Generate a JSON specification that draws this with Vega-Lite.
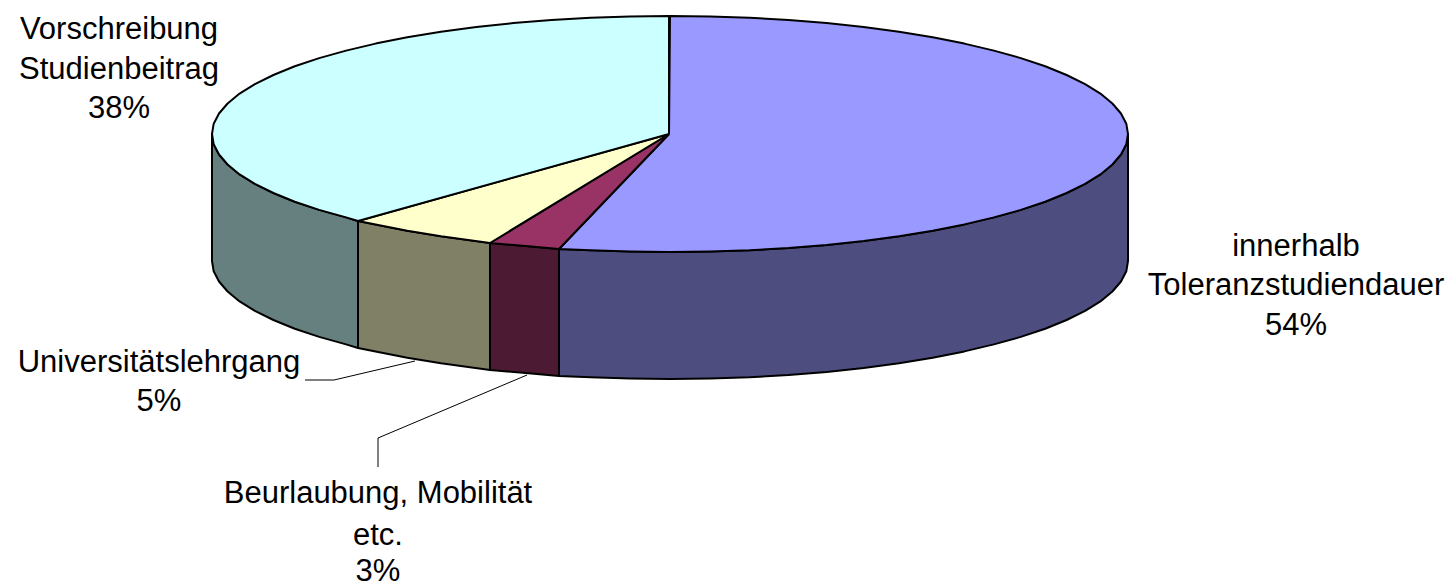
{"$schema":"https://vega.github.io/schema/vega-lite/v6.json","width":1454,"height":588,"padding":0,"autosize":{"type":"none"},"background":"white","config":{"view":{"stroke":null}},
"resolve":{"scale":{"fill":"independent"}},
"datasets":{
"sides":[
{"s":"S1","x":1128,"y":134},{"s":"S1","x":1126.3,"y":144.3},{"s":"S1","x":1121,"y":154.5},{"s":"S1","x":1112.4,"y":164.5},{"s":"S1","x":1100.4,"y":174.4},{"s":"S1","x":1085.1,"y":183.9},{"s":"S1","x":1066.6,"y":193},{"s":"S1","x":1045.2,"y":201.7},{"s":"S1","x":1020.8,"y":209.9},{"s":"S1","x":993.9,"y":217.4},{"s":"S1","x":964.4,"y":224.4},{"s":"S1","x":932.7,"y":230.7},{"s":"S1","x":899,"y":236.2},{"s":"S1","x":863.6,"y":240.9},{"s":"S1","x":826.6,"y":244.9},{"s":"S1","x":788.5,"y":248},{"s":"S1","x":749.5,"y":250.2},{"s":"S1","x":709.9,"y":251.5},{"s":"S1","x":670,"y":252},{"s":"S1","x":630.1,"y":251.5},{"s":"S1","x":590.5,"y":250.2},{"s":"S1","x":559,"y":249},{"s":"S1","x":559,"y":376},{"s":"S1","x":590.5,"y":377.2},{"s":"S1","x":630.1,"y":378.5},{"s":"S1","x":670,"y":379},{"s":"S1","x":709.9,"y":378.5},{"s":"S1","x":749.5,"y":377.2},{"s":"S1","x":788.5,"y":375},{"s":"S1","x":826.6,"y":371.9},{"s":"S1","x":863.6,"y":367.9},{"s":"S1","x":899,"y":363.2},{"s":"S1","x":932.7,"y":357.7},{"s":"S1","x":964.4,"y":351.4},{"s":"S1","x":993.9,"y":344.4},{"s":"S1","x":1020.8,"y":336.9},{"s":"S1","x":1045.2,"y":328.7},{"s":"S1","x":1066.6,"y":320},{"s":"S1","x":1085.1,"y":310.9},{"s":"S1","x":1100.4,"y":301.4},{"s":"S1","x":1112.4,"y":291.5},{"s":"S1","x":1121,"y":281.5},{"s":"S1","x":1126.3,"y":271.3},{"s":"S1","x":1128,"y":261},{"s":"S1","x":1128,"y":134},
{"s":"S2","x":559,"y":249},{"s":"S2","x":528.5,"y":246.2},{"s":"S2","x":490,"y":243},{"s":"S2","x":490,"y":370},{"s":"S2","x":528.5,"y":373.2},{"s":"S2","x":559,"y":376},{"s":"S2","x":559,"y":249},
{"s":"S3","x":490,"y":243},{"s":"S3","x":441,"y":236.2},{"s":"S3","x":407.3,"y":230.7},{"s":"S3","x":375.6,"y":224.4},{"s":"S3","x":358,"y":221},{"s":"S3","x":358,"y":348},{"s":"S3","x":375.6,"y":351.4},{"s":"S3","x":407.3,"y":357.7},{"s":"S3","x":441,"y":363.2},{"s":"S3","x":490,"y":370},{"s":"S3","x":490,"y":243},
{"s":"S4","x":358,"y":221},{"s":"S4","x":346.1,"y":217.4},{"s":"S4","x":319.2,"y":209.9},{"s":"S4","x":294.8,"y":201.7},{"s":"S4","x":273.4,"y":193},{"s":"S4","x":254.9,"y":183.9},{"s":"S4","x":239.6,"y":174.4},{"s":"S4","x":227.6,"y":164.5},{"s":"S4","x":219,"y":154.5},{"s":"S4","x":213.7,"y":144.3},{"s":"S4","x":212,"y":134},{"s":"S4","x":212,"y":261},{"s":"S4","x":213.7,"y":271.3},{"s":"S4","x":219,"y":281.5},{"s":"S4","x":227.6,"y":291.5},{"s":"S4","x":239.6,"y":301.4},{"s":"S4","x":254.9,"y":310.9},{"s":"S4","x":273.4,"y":320},{"s":"S4","x":294.8,"y":328.7},{"s":"S4","x":319.2,"y":336.9},{"s":"S4","x":346.1,"y":344.4},{"s":"S4","x":358,"y":348},{"s":"S4","x":358,"y":221}
],
"tops":[
{"s":"T1","x":669,"y":134},{"s":"T1","x":670,"y":16},{"s":"T1","x":709.9,"y":16.5},{"s":"T1","x":749.5,"y":17.8},{"s":"T1","x":788.5,"y":20},{"s":"T1","x":826.6,"y":23.1},{"s":"T1","x":863.6,"y":27.1},{"s":"T1","x":899,"y":31.8},{"s":"T1","x":932.7,"y":37.3},{"s":"T1","x":964.4,"y":43.6},{"s":"T1","x":993.9,"y":50.6},{"s":"T1","x":1020.8,"y":58.1},{"s":"T1","x":1045.2,"y":66.3},{"s":"T1","x":1066.6,"y":75},{"s":"T1","x":1085.1,"y":84.1},{"s":"T1","x":1100.4,"y":93.6},{"s":"T1","x":1112.4,"y":103.5},{"s":"T1","x":1121,"y":113.5},{"s":"T1","x":1126.3,"y":123.7},{"s":"T1","x":1128,"y":134},{"s":"T1","x":1126.3,"y":144.3},{"s":"T1","x":1121,"y":154.5},{"s":"T1","x":1112.4,"y":164.5},{"s":"T1","x":1100.4,"y":174.4},{"s":"T1","x":1085.1,"y":183.9},{"s":"T1","x":1066.6,"y":193},{"s":"T1","x":1045.2,"y":201.7},{"s":"T1","x":1020.8,"y":209.9},{"s":"T1","x":993.9,"y":217.4},{"s":"T1","x":964.4,"y":224.4},{"s":"T1","x":932.7,"y":230.7},{"s":"T1","x":899,"y":236.2},{"s":"T1","x":863.6,"y":240.9},{"s":"T1","x":826.6,"y":244.9},{"s":"T1","x":788.5,"y":248},{"s":"T1","x":749.5,"y":250.2},{"s":"T1","x":709.9,"y":251.5},{"s":"T1","x":670,"y":252},{"s":"T1","x":630.1,"y":251.5},{"s":"T1","x":590.5,"y":250.2},{"s":"T1","x":559,"y":249},{"s":"T1","x":669,"y":134},
{"s":"T2","x":669,"y":134},{"s":"T2","x":559,"y":249},{"s":"T2","x":528.5,"y":246.2},{"s":"T2","x":490,"y":243},{"s":"T2","x":669,"y":134},
{"s":"T3","x":669,"y":134},{"s":"T3","x":490,"y":243},{"s":"T3","x":441,"y":236.2},{"s":"T3","x":407.3,"y":230.7},{"s":"T3","x":375.6,"y":224.4},{"s":"T3","x":358,"y":221},{"s":"T3","x":669,"y":134},
{"s":"T4","x":669,"y":134},{"s":"T4","x":358,"y":221},{"s":"T4","x":346.1,"y":217.4},{"s":"T4","x":319.2,"y":209.9},{"s":"T4","x":294.8,"y":201.7},{"s":"T4","x":273.4,"y":193},{"s":"T4","x":254.9,"y":183.9},{"s":"T4","x":239.6,"y":174.4},{"s":"T4","x":227.6,"y":164.5},{"s":"T4","x":219,"y":154.5},{"s":"T4","x":213.7,"y":144.3},{"s":"T4","x":212,"y":134},{"s":"T4","x":213.7,"y":123.7},{"s":"T4","x":219,"y":113.5},{"s":"T4","x":227.6,"y":103.5},{"s":"T4","x":239.6,"y":93.6},{"s":"T4","x":254.9,"y":84.1},{"s":"T4","x":273.4,"y":75},{"s":"T4","x":294.8,"y":66.3},{"s":"T4","x":319.2,"y":58.1},{"s":"T4","x":346.1,"y":50.6},{"s":"T4","x":375.6,"y":43.6},{"s":"T4","x":407.3,"y":37.3},{"s":"T4","x":441,"y":31.8},{"s":"T4","x":476.4,"y":27.1},{"s":"T4","x":513.4,"y":23.1},{"s":"T4","x":551.5,"y":20},{"s":"T4","x":590.5,"y":17.8},{"s":"T4","x":630.1,"y":16.5},{"s":"T4","x":669,"y":16},{"s":"T4","x":669,"y":134}
],
"leaders":[
{"s":"a","i":0,"x":305,"y":380},{"s":"a","i":1,"x":334,"y":380},{"s":"a","i":2,"x":415,"y":361},
{"s":"b","i":0,"x":378,"y":467},{"s":"b","i":1,"x":378,"y":438},{"s":"b","i":2,"x":527,"y":375}
],
"labels":[
{"t":"Vorschreibung","x":119,"y":29},{"t":"Studienbeitrag","x":119,"y":69},{"t":"38%","x":119,"y":108},
{"t":"innerhalb","x":1296,"y":246},{"t":"Toleranzstudiendauer","x":1296,"y":285},{"t":"54%","x":1296,"y":325},
{"t":"Universitätslehrgang","x":159,"y":362},{"t":"5%","x":159,"y":401},
{"t":"Beurlaubung, Mobilität","x":378,"y":493},{"t":"etc.","x":378,"y":535},{"t":"3%","x":378,"y":571}
]},
"encoding":{"x":{"field":"x","type":"quantitative","scale":{"domain":[0,1454]},"axis":null},"y":{"field":"y","type":"quantitative","scale":{"domain":[0,588],"reverse":true},"axis":null}},
"layer":[
{"data":{"name":"sides"},"transform":[{"window":[{"op":"row_number","as":"i"}]}],"mark":{"type":"line","stroke":"black","strokeWidth":2,"strokeJoin":"round"},"encoding":{"order":{"field":"i","type":"quantitative"},"fill":{"field":"s","type":"nominal","legend":null,"scale":{"domain":["S1","S2","S3","S4"],"range":["#4D4D80","#4D1A33","#808066","#668080"]}}}},
{"data":{"name":"tops"},"transform":[{"window":[{"op":"row_number","as":"i"}]}],"mark":{"type":"line","stroke":"black","strokeWidth":2,"strokeJoin":"round"},"encoding":{"order":{"field":"i","type":"quantitative"},"fill":{"field":"s","type":"nominal","legend":null,"scale":{"domain":["T1","T2","T3","T4"],"range":["#9999FF","#993366","#FFFFCC","#CCFFFF"]}}}},
{"data":{"name":"leaders"},"mark":{"type":"line","stroke":"black","strokeWidth":1},"encoding":{"order":{"field":"i","type":"quantitative"},"detail":{"field":"s"}}},
{"data":{"name":"labels"},"mark":{"type":"text","font":"Liberation Sans","fontSize":31,"color":"black","align":"center","baseline":"middle","dy":1},"encoding":{"text":{"field":"t"}}}
]}
